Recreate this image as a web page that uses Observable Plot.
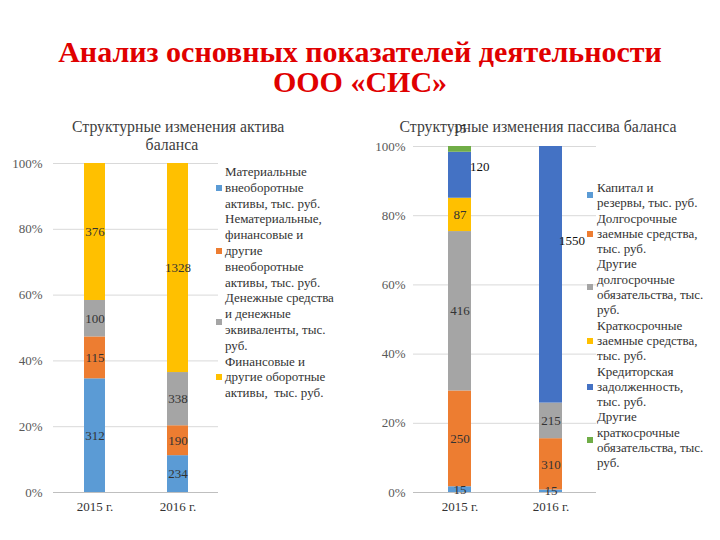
<!DOCTYPE html>
<html>
<head>
<meta charset="utf-8">
<script src="https://cdn.jsdelivr.net/npm/d3@7"></script>
<script src="https://cdn.jsdelivr.net/npm/@observablehq/plot@0.6"></script>
<style>
  body { margin: 0; background: #fff; }
  #page { position: relative; width: 720px; height: 540px; overflow: hidden; font-family: "Liberation Serif", "Tinos", "Times New Roman", "DejaVu Serif", serif; }
  .abs { position: absolute; }
  #title { left: 0; width: 720px; top: 37px; text-align: center; color: #e00000; font-weight: bold; font-size: 30px; line-height: 30px; }
  .sub { font-size: 15.8px; line-height: 18px; color: #404040; text-align: center; white-space: nowrap; }
  .legend { font-size: 13px; color: #333; }
  .item { display: flex; align-items: center; }
  .sw { width: 6px; height: 6px; flex: none; }
  .lab { white-space: pre; }
</style>
</head>
<body>
<div id="page">
  <div id="title" class="abs">Анализ основных показателей деятельности<br>ООО «СИС»</div>
  <div id="subL" class="abs sub" style="left:72px; width:200px; top:118px;">Структурные изменения актива<br>баланса</div>
  <div id="subR" class="abs sub" style="left:388px; width:300px; top:118px;">Структурные изменения пассива баланса</div>
  <div id="chartL" class="abs" style="left:0; top:150px;"></div>
  <div id="chartR" class="abs" style="left:360px; top:133px;"></div>
  <div id="legL" class="abs legend" style="left:216px; top:164px; line-height:15.8px;"></div>
  <div id="legR" class="abs legend" style="left:587px; top:180px; line-height:15.3px;"></div>
</div>
<script>
// ---- Data ----
const years = ["2015 г.", "2016 г."];

const assetSeries = [
  "Материальные внеоборотные активы, тыс. руб.",
  "Нематериальные, финансовые и другие внеоборотные активы, тыс. руб.",
  "Денежные средства и денежные эквиваленты, тыс. руб.",
  "Финансовые и другие оборотные активы,  тыс. руб."
];
const assetLegend = [
  "Материальные\nвнеоборотные\nактивы, тыс. руб.",
  "Нематериальные,\nфинансовые и\nдругие\nвнеоборотные\nактивы, тыс. руб.",
  "Денежные средства\nи денежные\nэквиваленты, тыс.\nруб.",
  "Финансовые и\nдругие оборотные\nактивы,  тыс. руб."
];
const assetColors = ["#5B9BD5", "#ED7D31", "#A5A5A5", "#FFC000"];
const assets2015 = [312, 115, 100, 376];
const assets2016 = [234, 190, 338, 1328];

const liabSeries = [
  "Капитал и резервы, тыс. руб.",
  "Долгосрочные заемные средства, тыс. руб.",
  "Другие долгосрочные обязательства, тыс. руб.",
  "Краткосрочные заемные средства, тыс. руб.",
  "Кредиторская задолженность, тыс. руб.",
  "Другие краткосрочные обязательства, тыс. руб."
];
const liabLegend = [
  "Капитал и\nрезервы, тыс. руб.",
  "Долгосрочные\nзаемные средства,\nтыс. руб.",
  "Другие\nдолгосрочные\nобязательства, тыс.\nруб.",
  "Краткосрочные\nзаемные средства,\nтыс. руб.",
  "Кредиторская\nзадолженность,\nтыс. руб.",
  "Другие\nкраткосрочные\nобязательства, тыс.\nруб."
];
const liabColors = ["#5B9BD5", "#ED7D31", "#A5A5A5", "#FFC000", "#4472C4", "#70AD47"];
const liab2015 = [15, 250, 416, 87, 120, 15];
const liab2016 = [15, 310, 215, 0, 1550, 0];

const yTicks = [0, 0.2, 0.4, 0.6, 0.8, 1];

// ---- Build tables ----
function table(series, v2015, v2016) {
  const rows = [];
  series.forEach((s, i) => {
    rows.push({year: years[0], series: s, value: v2015[i]});
    rows.push({year: years[1], series: s, value: v2016[i]});
  });
  return rows.filter(d => d.value > 0);
}
const assetData = table(assetSeries, assets2015, assets2016);
const liabData = table(liabSeries, liab2015, liab2016);

const fmt = d3.format(".0%");
const FONT = '"Liberation Serif", "Tinos", "Times New Roman", "DejaVu Serif", serif';
const baseStyle = {fontFamily: FONT, fontSize: "13px", color: "#595959", background: "transparent", overflow: "visible"};

function stackOpts(order, extra) {
  return Object.assign({x: "year", y: "value", z: "series", order, offset: "normalize"}, extra);
}
const labelIf = cond => d => cond(d) ? String(d.value) : null;

// ---- Left chart ----
const left = Plot.plot({
  width: 360, height: 372,
  marginLeft: 53, marginRight: 142, marginTop: 13, marginBottom: 30,
  style: baseStyle,
  x: {domain: years, paddingInner: 0.747, paddingOuter: 0.367, label: null, axis: null},
  y: {domain: [0, 1], label: null, axis: null},
  color: {domain: assetSeries, range: assetColors},
  marks: [
    Plot.gridY(yTicks, {stroke: "#d9d9d9", strokeOpacity: 1}),
    Plot.barY(assetData, Plot.stackY(stackOpts(assetSeries, {fill: "series"}))),
    Plot.ruleY([0], {stroke: "#bfbfbf"}),
    Plot.text(assetData, Plot.stackY(stackOpts(assetSeries, {text: d => String(d.value), fill: "#333", fontSize: 13}))),
    Plot.axisY({ticks: yTicks, tickFormat: fmt, tickSize: 0, tickPadding: 11, label: null}),
    Plot.axisX({tickSize: 0, tickPadding: 9, label: null, fill: "#333"})
  ]
});
document.getElementById("chartL").appendChild(left);

// ---- Right chart ----
const kred = liabSeries[4], other = liabSeries[5];
const right = Plot.plot({
  width: 360, height: 389,
  marginLeft: 53, marginRight: 124, marginTop: 13, marginBottom: 30,
  style: baseStyle,
  x: {domain: years, paddingInner: 0.75, paddingOuter: 0.37, label: null, axis: null},
  y: {domain: [0, 1], label: null, axis: null},
  color: {domain: liabSeries, range: liabColors},
  marks: [
    Plot.gridY(yTicks, {stroke: "#d9d9d9", strokeOpacity: 1}),
    Plot.barY(liabData, Plot.stackY(stackOpts(liabSeries, {fill: "series"}))),
    Plot.ruleY([0], {stroke: "#bfbfbf"}),
    Plot.text(liabData, Plot.stackY(stackOpts(liabSeries, {fill: "#333", fontSize: 13,
      text: labelIf(d => d.series !== kred && d.series !== other)}))),
    Plot.text(liabData, Plot.stackY(stackOpts(liabSeries, {fill: "#111", fontSize: 13,
      text: labelIf(d => d.series === kred && d.year === years[0]), textAnchor: "start", dx: 10, dy: -8}))),
    Plot.text(liabData, Plot.stackY(stackOpts(liabSeries, {fill: "#111", fontSize: 13,
      text: labelIf(d => d.series === kred && d.year === years[1]), textAnchor: "start", dx: 8, dy: -34}))),
    Plot.text(liabData, Plot.stackY2(stackOpts(liabSeries, {fill: "#333", fontSize: 13,
      text: labelIf(d => d.series === other), dy: -18}))),
    Plot.axisY({ticks: yTicks, tickFormat: fmt, tickSize: 0, tickPadding: 8, label: null}),
    Plot.axisX({tickSize: 0, tickPadding: 9, label: null, fill: "#333"})
  ]
});
document.getElementById("chartR").appendChild(right);

// ---- Legends ----
function legend(el, labels, colors, textOffset) {
  labels.forEach((l, i) => {
    const item = document.createElement("div");
    item.className = "item";
    const sw = document.createElement("div");
    sw.className = "sw";
    sw.style.background = colors[i];
    sw.style.marginRight = textOffset + "px";
    const t = document.createElement("div");
    t.className = "lab";
    t.textContent = l;
    item.appendChild(sw);
    item.appendChild(t);
    el.appendChild(item);
  });
}
legend(document.getElementById("legL"), assetLegend, assetColors, 3);
legend(document.getElementById("legR"), liabLegend, liabColors, 4);
</script>
</body>
</html>
